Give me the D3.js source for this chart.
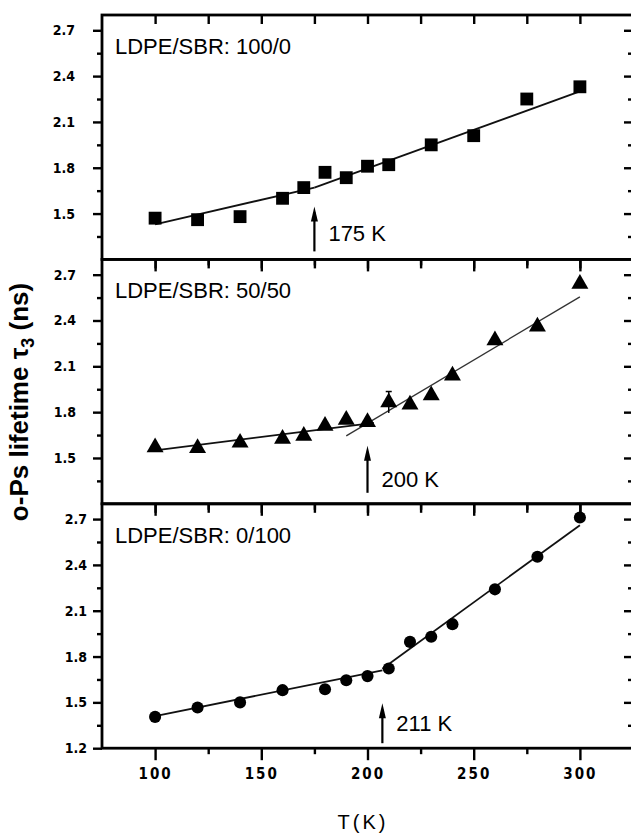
<!DOCTYPE html>
<html>
<head>
<meta charset="utf-8">
<script src="https://cdn.jsdelivr.net/npm/d3@7"></script>
<style>
  body { margin: 0; background: #fff; }
  svg { display: block; }
  .tick text { font-family: 'DejaVu Sans Condensed', 'Liberation Sans Narrow', sans-serif; font-weight: bold; fill: #000; }
  .tick line { stroke: #000; stroke-width: 2.4; }
</style>
</head>
<body>
<svg id="chart" width="631" height="836"></svg>
<script>
// ---- data ----
const xMajor = [100, 150, 200, 250, 300];
const xMinor = [125, 175, 225, 275];
const yMajor = [1.5, 1.8, 2.1, 2.4, 2.7];
const yMajorBottom = [1.2, 1.5, 1.8, 2.1, 2.4, 2.7];
const yMinor = [1.35, 1.65, 1.95, 2.25, 2.55];

// LDPE/SBR 100/0 (squares)
const temps100 = [100, 120, 140, 160, 170, 180, 190, 200, 210, 230, 250, 275, 300];
const tau100 = [1.47, 1.46, 1.48, 1.60, 1.67, 1.77, 1.735, 1.81, 1.82, 1.95, 2.01, 2.25, 2.33];
const fit100a = [[100, 1.43], [175, 1.67]];
const fit100b = [[175, 1.67], [300, 2.30]];

// LDPE/SBR 50/50 (triangles)
const temps50 = [100, 120, 140, 160, 170, 180, 190, 200, 210, 220, 230, 240, 260, 280, 300];
const tau50 = [1.57, 1.565, 1.60, 1.625, 1.645, 1.71, 1.75, 1.735, 1.865, 1.85, 1.91, 2.04, 2.27, 2.36, 2.64];
const err50 = [0, 0, 0, 0, 0, 0, 0, 0, 0.07, 0, 0, 0, 0, 0, 0];
const fit50a = [[100, 1.55], [203, 1.73]];
const fit50b = [[190, 1.645], [300, 2.555]];

// LDPE/SBR 0/100 (circles)
const temps0 = [100, 120, 140, 160, 180, 190, 200, 210, 220, 230, 240, 260, 280, 300];
const tau0 = [1.405, 1.466, 1.50, 1.58, 1.586, 1.645, 1.672, 1.722, 1.896, 1.93, 2.012, 2.24, 2.453, 2.71];
const fit0a = [[100, 1.41], [207, 1.71]];
const fit0b = [[207, 1.72], [300, 2.66]];

const labels = ['LDPE/SBR: 100/0', 'LDPE/SBR: 50/50', 'LDPE/SBR: 0/100'];
const arrowT = [175, 200, 207];
const arrowLabels = ['175 K', '200 K', '211 K'];

// ---- layout ----
const svg = d3.select('#chart');
const frameLeft = 102, frameRight = 633;
const panelTop = 15, panelH = 244.4;

const x = d3.scaleLinear().domain([75, 325]).range([frameLeft, frameRight]);

const panels = [
    { temps: temps100, tau: tau100, err: null, fits: [fit100a, fit100b], shape: d3.symbolSquare, size: 165,
      labelPad: 18, arrowTip: 53, arrowBase: 8, arrowTextBase: 18 },
    { temps: temps50, tau: tau50, err: err50, fits: [fit50a, fit50b], shape: d3.symbolTriangle, size: 125,
      labelPad: 17, arrowTip: 58, arrowBase: 11, arrowTextBase: 17 },
    { temps: temps0, tau: tau0, err: null, fits: [fit0a, fit0b], shape: d3.symbolCircle, size: 115,
      labelPad: 6, arrowTip: 45, arrowBase: 5, arrowTextBase: 17 }
];

const line = (y) => d3.line().x(d => x(d[0])).y(d => y(d[1]));

panels.forEach((p, i) => {
    const top = panelTop + i * panelH;
    const bottom = top + panelH;
    const y = d3.scaleLinear().domain([1.2, 2.8]).range([bottom, top]);
    const g = svg.append('g').attr('class', 'panel');
    const isLast = i === panels.length - 1;

    // left axis (ticks out)
    const left = g.append('g').attr('transform', `translate(${frameLeft},0)`);
    left.call(d3.axisLeft(y).tickValues(isLast ? yMajorBottom : yMajor)
        .tickSize(9).tickPadding(p.labelPad).tickFormat(d3.format('.1f')));
    left.append('g').call(d3.axisLeft(y).tickValues(yMinor).tickSize(5).tickFormat(''));
    left.selectAll('text').attr('font-size', 14);

    // right axis (ticks in)
    const right = g.append('g').attr('transform', `translate(${frameRight},0)`);
    right.call(d3.axisRight(y).tickValues(yMajor).tickSize(-9).tickFormat(''));
    right.append('g').call(d3.axisRight(y).tickValues(yMinor).tickSize(-5).tickFormat(''));

    // top axis (ticks in)
    const topAx = g.append('g').attr('transform', `translate(0,${top})`);
    topAx.call(d3.axisTop(x).tickValues(xMajor.concat(xMinor)).tickSize(-9).tickFormat(''));

    // bottom axis (ticks out, labels on last panel)
    const bot = g.append('g').attr('transform', `translate(0,${bottom})`);
    bot.call(d3.axisBottom(x).tickValues(xMajor).tickSize(12).tickPadding(8)
        .tickFormat(isLast ? d3.format('d') : ''));
    bot.append('g').call(d3.axisBottom(x).tickValues(xMinor).tickSize(6).tickFormat(''));
    bot.selectAll('text').attr('font-size', 15).attr('letter-spacing', 2);

    g.selectAll('.domain').remove();

    // frame
    g.append('rect')
        .attr('x', frameLeft).attr('y', top)
        .attr('width', frameRight - frameLeft).attr('height', panelH)
        .attr('fill', 'none').attr('stroke', '#000').attr('stroke-width', 2.8);

    // fit lines
    p.fits.forEach((f, k) => {
        g.append('path')
            .attr('d', line(y)(f))
            .attr('fill', 'none')
            .attr('stroke', i === 1 && k === 1 ? '#333' : '#111')
            .attr('stroke-width', i === 1 && k === 1 ? 1.3 : 1.8);
    });

    // error bars
    if (p.err) {
        p.temps.forEach((t, k) => {
            const e = p.err[k];
            if (!e) return;
            g.append('line')
                .attr('x1', x(t)).attr('x2', x(t))
                .attr('y1', y(p.tau[k] - e)).attr('y2', y(p.tau[k] + e))
                .attr('stroke', '#000').attr('stroke-width', 1.5);
            g.append('line')
                .attr('x1', x(t) - 3).attr('x2', x(t) + 3)
                .attr('y1', y(p.tau[k] + e)).attr('y2', y(p.tau[k] + e))
                .attr('stroke', '#000').attr('stroke-width', 1.5);
        });
    }

    // markers
    g.selectAll('.marker')
        .data(p.temps.map((t, k) => [t, p.tau[k]]))
        .enter()
        .append('path')
        .attr('class', 'marker')
        .attr('transform', d => `translate(${x(d[0])},${y(d[1])})`)
        .attr('d', d3.symbol().type(p.shape).size(p.size))
        .attr('fill', '#000');

    // panel label
    g.append('text')
        .attr('x', 115).attr('y', top + 39)
        .attr('font-family', "'Liberation Sans', Arial, sans-serif")
        .attr('font-size', 22)
        .attr('fill', '#000')
        .text(labels[i]);

    // transition arrow
    const ax = x(arrowT[i]);
    const tipY = bottom - p.arrowTip, baseY = bottom - p.arrowBase;
    g.append('line')
        .attr('x1', ax).attr('x2', ax)
        .attr('y1', tipY + 6).attr('y2', baseY)
        .attr('stroke', '#000').attr('stroke-width', 2.2);
    g.append('path')
        .attr('d', `M${ax},${tipY} L${ax + 3.5},${tipY + 15} L${ax - 3.5},${tipY + 15} Z`)
        .attr('fill', '#000');
    g.append('text')
        .attr('x', ax + 14).attr('y', bottom - p.arrowTextBase)
        .attr('font-family', "'Liberation Sans', Arial, sans-serif")
        .attr('font-size', 22)
        .attr('fill', '#000')
        .text(arrowLabels[i]);
});

// axis titles
const yTitle = svg.append('text')
    .attr('transform', 'translate(28,402) rotate(-90)')
    .attr('text-anchor', 'middle')
    .attr('font-family', "'Liberation Sans', Arial, sans-serif")
    .attr('font-weight', 'bold')
    .attr('font-size', 26)
    .attr('fill', '#000');
yTitle.append('tspan').text('o-Ps lifetime \u03C4');
yTitle.append('tspan').attr('font-size', 18).attr('dy', 6).text('3');
yTitle.append('tspan').attr('dy', -6).text(' (ns)');

svg.append('text')
    .attr('x', 363).attr('y', 829)
    .attr('text-anchor', 'middle')
    .attr('font-family', "'Liberation Sans', Arial, sans-serif")
    .attr('font-size', 20)
    .attr('letter-spacing', 3)
    .attr('fill', '#000')
    .text('T(K)');
</script>
</body>
</html>
